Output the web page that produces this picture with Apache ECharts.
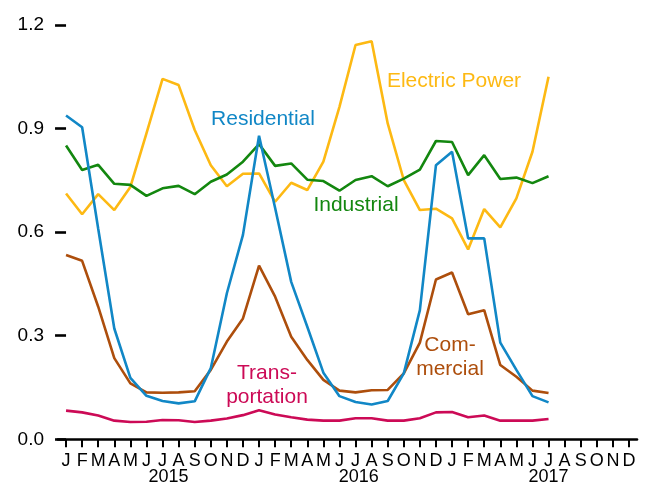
<!DOCTYPE html>
<html>
<head>
<meta charset="utf-8">
<script src="https://cdn.jsdelivr.net/npm/echarts@6/dist/echarts.min.js"></script>
<style>
  html, body { margin: 0; padding: 0; background: #fff; }
  #chart { width: 650px; height: 489px; }
</style>
</head>
<body>
<div id="chart"></div>
<script>
// Monthly consumption by sector, Jan 2015 – Dec 2017 (data through Jul 2017)
const months = ['J','F','M','A','M','J','J','A','S','O','N','D',
                'J','F','M','A','M','J','J','A','S','O','N','D',
                'J','F','M','A','M','J','J','A','S','O','N','D'];
const years = ['2015', '2016', '2017'];
const yearPositions = [6.37, 18.2, 30.0];
const yTicks = [0, 0.3, 0.6, 0.9, 1.2];

const electricPower = [0.712, 0.652, 0.710, 0.664, 0.731, 0.886, 1.044, 1.026, 0.896, 0.794, 0.733, 0.769,
                       0.770, 0.688, 0.743, 0.722, 0.804, 0.963, 1.142, 1.153, 0.915, 0.751, 0.664, 0.668,
                       0.640, 0.550, 0.667, 0.614, 0.698, 0.833, 1.050];
const industrial    = [0.851, 0.780, 0.795, 0.740, 0.737, 0.705, 0.727, 0.734, 0.710, 0.746, 0.767, 0.804,
                       0.855, 0.792, 0.799, 0.752, 0.748, 0.720, 0.751, 0.762, 0.733, 0.755, 0.781, 0.864,
                       0.861, 0.765, 0.823, 0.754, 0.758, 0.742, 0.762];
const residential   = [0.938, 0.904, 0.610, 0.321, 0.178, 0.126, 0.111, 0.104, 0.110, 0.206, 0.423, 0.592,
                       0.879, 0.670, 0.456, 0.326, 0.193, 0.125, 0.108, 0.101, 0.111, 0.191, 0.374, 0.794,
                       0.833, 0.582, 0.582, 0.280, 0.201, 0.125, 0.107];
const commercial    = [0.534, 0.517, 0.384, 0.235, 0.162, 0.136, 0.135, 0.136, 0.139, 0.201, 0.283, 0.350,
                       0.503, 0.413, 0.297, 0.230, 0.172, 0.141, 0.136, 0.142, 0.143, 0.191, 0.280, 0.463,
                       0.483, 0.362, 0.374, 0.215, 0.181, 0.141, 0.134];
const transportation = [0.083, 0.078, 0.069, 0.054, 0.050, 0.051, 0.056, 0.055, 0.050, 0.054, 0.060, 0.070,
                        0.084, 0.072, 0.064, 0.057, 0.054, 0.054, 0.061, 0.061, 0.054, 0.054, 0.061, 0.078,
                        0.079, 0.064, 0.069, 0.054, 0.054, 0.054, 0.059];

const C = {
  electric: '#fdb913',
  industrial: '#13870f',
  residential: '#1187c6',
  commercial: '#ad4e0c',
  transportation: '#cc0a56'
};
const FONT = '"Liberation Sans", Arial, Helvetica, sans-serif';

function line(name, data, color) {
  return {
    name, type: 'line', data,
    xAxisIndex: 0, yAxisIndex: 0,
    symbol: 'none', smooth: false,
    lineStyle: { color, width: 2.6 },
    emphasis: { disabled: true },
    animation: false
  };
}

function label(text, x, y, color) {
  return {
    type: 'text', x, y,
    style: {
      text, fill: color, font: '21px ' + FONT,
      align: 'center', verticalAlign: 'middle', lineHeight: 24
    },
    silent: true
  };
}

const chart = echarts.init(document.getElementById('chart'), null, { renderer: 'canvas' });
chart.setOption({
  backgroundColor: '#ffffff',
  animation: false,
  grid: { left: 58, right: 13, top: 25, bottom: 49.7, containLabel: false },
  xAxis: [
    {
      type: 'category', data: months, boundaryGap: true,
      axisLine: { show: true, lineStyle: { color: '#000', width: 2.6 } },
      axisTick: { show: true, alignWithLabel: true, interval: 0, length: 8, lineStyle: { color: '#000', width: 2 } },
      axisLabel: { interval: 0, color: '#000', fontSize: 18, fontFamily: FONT, margin: 13 },
      splitLine: { show: false }
    },
    {
      type: 'value', min: -0.5, max: 35.5, position: 'bottom',
      axisLine: { show: false }, axisTick: { show: false }, splitLine: { show: false },
      axisLabel: {
        customValues: yearPositions,
        formatter: (v) => years[yearPositions.indexOf(v)] || '',
        color: '#000', fontSize: 18, fontFamily: FONT, margin: 29
      }
    }
  ],
  yAxis: {
    type: 'value', min: 0, max: 1.2, interval: 0.3,
    axisLine: { show: false },
    axisTick: { show: true, length: 11, lineStyle: { color: '#000', width: 2.6 } },
    axisLabel: {
      color: '#000', fontSize: 19, fontFamily: FONT, margin: 14,
      formatter: (v) => yTicks.includes(Math.round(v * 10) / 10) ? v.toFixed(1) : ''
    },
    splitLine: { show: false }
  },
  series: [
    line('Electric Power', electricPower, C.electric),
    line('Industrial', industrial, C.industrial),
    line('Commercial', commercial, C.commercial),
    line('Residential', residential, C.residential),
    line('Transportation', transportation, C.transportation)
  ],
  graphic: [
    label('Electric Power', 454, 81, C.electric),
    label('Residential', 263, 119, C.residential),
    label('Industrial', 356, 205, C.industrial),
    label('Com-\nmercial', 450, 357, C.commercial),
    label('Trans-\nportation', 267, 385, C.transportation)
  ]
});
</script>
</body>
</html>
